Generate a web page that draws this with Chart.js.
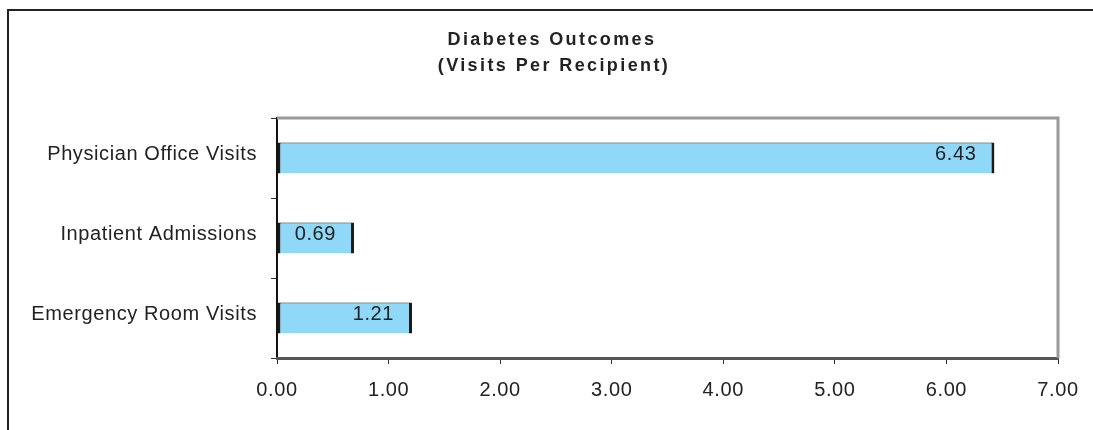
<!DOCTYPE html>
<html>
<head>
<meta charset="utf-8">
<script src="https://cdn.jsdelivr.net/npm/chart.js@4"></script>
<style>
  body { margin: 0; background: #fff; }
</style>
</head>
<body>
<canvas id="grafico" width="1093" height="430"></canvas>
<script>
// dados do grafico
const categorias = ['Physician Office Visits', 'Inpatient Admissions', 'Emergency Room Visits'];
const visitas = [6.43, 0.69, 1.21];
const tituloLinhas = ['Diabetes Outcomes', '(Visits Per Recipient)'];
const eixoMin = 0;
const eixoMax = 7;
const eixoPasso = 1;

const fonte = "'Liberation Sans', Arial, sans-serif";

// moldura, titulo e linhas de cima/direita da area do grafico
let moldura = {
    id: 'moldura',
    beforeDraw: function(chart) {
        let ctx = chart.ctx;
        ctx.save();
        ctx.fillStyle = '#fff';
        ctx.fillRect(0, 0, chart.width, chart.height);
        ctx.strokeStyle = '#222';
        ctx.lineWidth = 2;
        ctx.beginPath();
        ctx.moveTo(8, chart.height);
        ctx.lineTo(8, 10);
        ctx.lineTo(chart.width, 10);
        ctx.stroke();

        ctx.fillStyle = '#222';
        ctx.font = 'bold 18px ' + fonte;
        ctx.letterSpacing = '2.4px';
        ctx.textAlign = 'center';
        ctx.textBaseline = 'middle';
        ctx.fillText(tituloLinhas[0], 552, 40);
        ctx.fillText(tituloLinhas[1], 554, 66);
        ctx.restore();
        ctx.letterSpacing = '0.6px';
    },
    beforeDatasetsDraw: function(chart) {
        let ctx = chart.ctx;
        let a = chart.chartArea;
        ctx.save();
        ctx.strokeStyle = '#9a9a9a';
        ctx.lineWidth = 3;
        ctx.beginPath();
        ctx.moveTo(a.left, a.top);
        ctx.lineTo(a.right, a.top);
        ctx.lineTo(a.right, a.bottom);
        ctx.stroke();
        ctx.restore();
    },
    afterDatasetsDraw: function(chart) {
        let ctx = chart.ctx;
        let meta = chart.getDatasetMeta(0);
        ctx.save();
        ctx.fillStyle = '#222';
        ctx.font = '20px ' + fonte;
        ctx.letterSpacing = '0.6px';
        ctx.textAlign = 'right';
        ctx.textBaseline = 'middle';
        meta.data.forEach(function(barra, i) {
            ctx.fillText(visitas[i].toFixed(2), barra.x - 18, barra.y - 4);
        });
        ctx.restore();
    }
};

let dados = {
    labels: categorias,
    datasets: [{
        label: 'Visits Per Recipient',
        data: visitas,
        backgroundColor: 'rgb(143, 216, 247)',
        borderColor: '#1a1a1a',
        borderWidth: { left: 3, right: 3, top: 1, bottom: 0 },
        borderSkipped: false,
        barPercentage: 0.39,
        categoryPercentage: 1
    }]
};

let options = {
    indexAxis: 'y',
    responsive: false,
    animation: false,
    layout: {
        padding: { top: 118, left: 0, right: 35, bottom: 0 }
    },
    plugins: {
        legend: { display: false },
        title: { display: false },
        tooltip: { enabled: false }
    },
    scales: {
        y: {
            afterFit: function(s) { s.width = 277; },
            grid: {
                offset: true,
                drawOnChartArea: false,
                tickLength: 6,
                color: '#333'
            },
            border: { color: '#111', width: 2 },
            ticks: {
                color: '#222',
                font: { family: fonte, size: 20 },
                padding: 14,
                labelOffset: -4
            }
        },
        x: {
            min: eixoMin,
            max: eixoMax,
            afterFit: function(s) {
                s.height = 72;
                s.paddingLeft = 0;
                s.paddingRight = 0;
            },
            grid: {
                drawOnChartArea: false,
                tickLength: 6,
                color: '#333'
            },
            border: { color: '#555', width: 3 },
            ticks: {
                stepSize: eixoPasso,
                color: '#222',
                font: { family: fonte, size: 20 },
                padding: 14,
                callback: function(v) { return Number(v).toFixed(2); }
            }
        }
    }
};

let ctx = document.getElementById('grafico').getContext('2d');
var graficoChart = new Chart(ctx, {
    type: 'bar',
    data: dados,
    options: options,
    plugins: [moldura]
});
</script>
</body>
</html>
